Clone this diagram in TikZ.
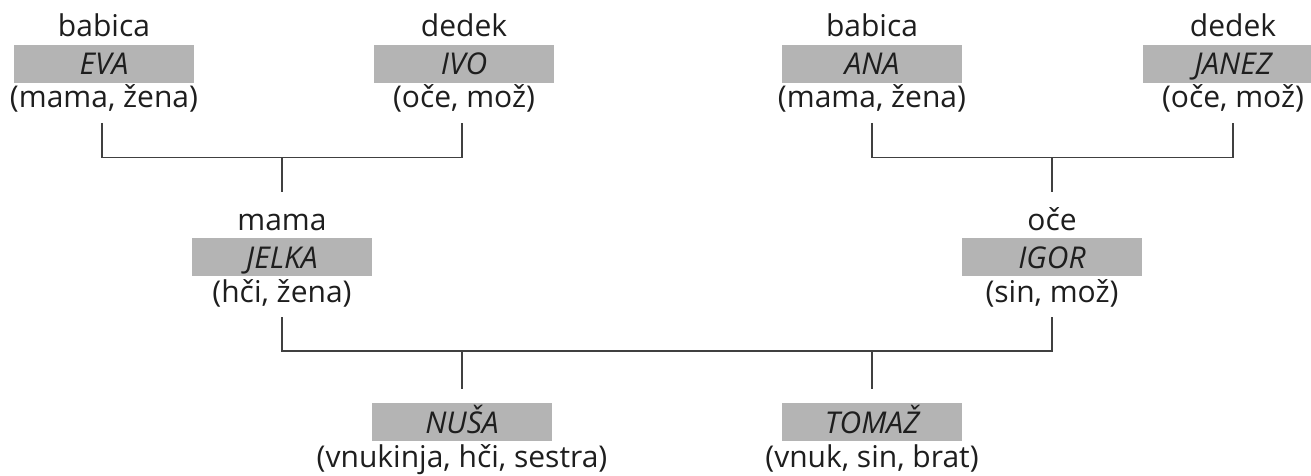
\documentclass[tikz,border=0pt]{standalone}
\usepackage{fontspec}
\setmainfont{Open Sans}
\usetikzlibrary{calc}
\definecolor{boxgray}{HTML}{B4B4B4}
\definecolor{ink}{HTML}{1E1E1E}
\definecolor{linegray}{HTML}{404040}
\begin{document}
\begin{tikzpicture}[x=1pt,y=-1pt,
  person/.style={fill=boxgray, minimum width=180pt, minimum height=38pt, inner sep=0pt, font=\fontsize{30}{34}\selectfont\itshape, text=ink, text height=22pt, text depth=0pt},
  lab/.style={inner sep=0pt, anchor=base, font=\fontsize{30}{34}\selectfont, text=ink},
  conn/.style={draw=linegray, line width=1.2pt}]
\useasboundingbox (0,0) rectangle (1311,476);
% persons
\node[person] (eva) at (104,64) {EVA};
\node[person] (ivo) at (464,64) {IVO};
\node[person] (ana) at (872,64) {ANA};
\node[person] (janez) at (1233,64) {JANEZ};
\node[person] (jelka) at (282,257) {JELKA};
\node[person] (igor) at (1052,257) {IGOR};
\node[person] (nusa) at (462,422) {NUŠA};
\node[person] (tomaz) at (872,422) {TOMAŽ};
% labels above
\node[lab] (evaT) at ($(eva.center)+(0,-27)$) {babica};
\node[lab] (ivoT) at ($(ivo.center)+(0,-27)$) {dedek};
\node[lab] (anaT) at ($(ana.center)+(0,-27)$) {babica};
\node[lab] (janezT) at ($(janez.center)+(0,-27)$) {dedek};
\node[lab] (jelkaT) at ($(jelka.center)+(0,-27)$) {mama};
\node[lab] (igorT) at ($(igor.center)+(0,-27)$) {oče};
% labels below
\node[lab] (evaR) at ($(eva.center)+(0,44)$) {(mama, žena)};
\node[lab] (ivoR) at ($(ivo.center)+(0,44)$) {(oče, mož)};
\node[lab] (anaR) at ($(ana.center)+(0,44)$) {(mama, žena)};
\node[lab] (janezR) at ($(janez.center)+(0,44)$) {(oče, mož)};
\node[lab] (jelkaR) at ($(jelka.center)+(0,45)$) {(hči, žena)};
\node[lab] (igorR) at ($(igor.center)+(0,45)$) {(sin, mož)};
\node[lab] (nusaR) at ($(nusa.center)+(0,45)$) {(vnukinja, hči, sestra)};
\node[lab] (tomazR) at ($(tomaz.center)+(0,45)$) {(vnuk, sin, brat)};
% join points
\coordinate (j1) at (282,157.5);
\coordinate (j2) at (1052,157.5);
\coordinate (j3) at (462,351);
% connectors
\draw[conn] ($(evaR.base)+(-2,15)$) |- (j1) -| ($(ivoR.base)+(-2,15)$);
\draw[conn] (j1) -- ($(jelkaT.base)+(0,-38)$);
\draw[conn] ($(anaR.base)+(0,15)$) |- (j2) -| ($(janezR.base)+(0,15)$);
\draw[conn] (j2) -- ($(igorT.base)+(0,-38)$);
\draw[conn] ($(jelkaR.base)+(0,15)$) |- (j3) -| ($(igorR.base)+(0,15)$);
\draw[conn] (j3) -- ($(nusa.north)+(0,-14)$);
\draw[conn] (tomaz.center |- j3) -- ($(tomaz.north)+(0,-14)$);
\end{tikzpicture}
\end{document}
